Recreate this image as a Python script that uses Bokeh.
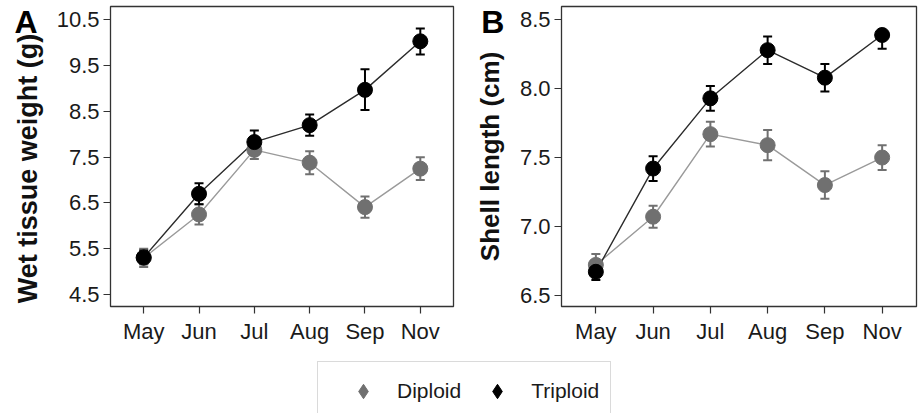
from bokeh.plotting import figure
from bokeh.models import (Range1d, FixedTicker, ColumnDataSource, Legend,
                          LegendItem, PrintfTickFormatter)
from bokeh.core.properties import value
from bokeh.layouts import column, row
from bokeh.embed import file_html
from bokeh.resources import INLINE
import math

# ---------------- data ----------------
months = ["May", "Jun", "Jul", "Aug", "Sep", "Nov"]
series = ["Diploid", "Triploid"]

wet_diploid = [5.30, 6.25, 7.66, 7.38, 6.41, 7.25]
wet_diploid_err_lo = [0.20, 0.22, 0.20, 0.25, 0.23, 0.25]
wet_diploid_err_hi = [0.20, 0.22, 0.20, 0.25, 0.23, 0.25]
wet_triploid = [5.31, 6.70, 7.83, 8.20, 8.97, 10.03]
wet_triploid_err_lo = [0.15, 0.23, 0.25, 0.23, 0.44, 0.29]
wet_triploid_err_hi = [0.15, 0.23, 0.25, 0.23, 0.45, 0.28]
wet_ticks = [4.5, 5.5, 6.5, 7.5, 8.5, 9.5, 10.5]

shell_diploid = [6.72, 7.07, 7.67, 7.59, 7.30, 7.50]
shell_diploid_err_lo = [0.08, 0.08, 0.09, 0.11, 0.10, 0.09]
shell_diploid_err_hi = [0.08, 0.08, 0.09, 0.11, 0.10, 0.09]
shell_triploid = [6.67, 7.42, 7.93, 8.28, 8.08, 8.39]
shell_triploid_err_lo = [0.06, 0.09, 0.09, 0.10, 0.10, 0.10]
shell_triploid_err_hi = [0.06, 0.09, 0.09, 0.10, 0.10, 0.00]
shell_ticks = [6.5, 7.0, 7.5, 8.0, 8.5]

# ---------------- style ----------------
FONT = "Liberation Sans"
DIP_PT = "#707070"
DIP_LINE = "#9a9a9a"
TRI_PT = "#000000"
TRI_LINE = "#2b2b2b"
FRAME = "#333333"


def make_panel(width, border_left, border_right, yr, ticks,
               ylabel, ylabel_xy, ylabel_size, letter, letter_xy,
               dip, dip_lo, dip_hi, tri, tri_lo, tri_hi):
    p = figure(width=width, height=360, output_backend="svg", toolbar_location=None,
               x_range=Range1d(-0.6, len(months) - 0.4), y_range=Range1d(*yr),
               min_border_left=border_left, min_border_right=border_right,
               min_border_top=6, min_border_bottom=54)
    p.xgrid.visible = False
    p.ygrid.visible = False
    p.outline_line_color = FRAME
    p.outline_line_width = 1.3
    p.outline_line_alpha = 1.0
    p.background_fill_color = "white"
    p.border_fill_color = "white"

    xs = list(range(len(months)))
    p.xaxis.ticker = FixedTicker(ticks=xs)
    p.xaxis.major_label_overrides = {i: m for i, m in enumerate(months)}
    p.yaxis.ticker = FixedTicker(ticks=ticks)
    p.yaxis.formatter = PrintfTickFormatter(format="%.1f")
    for ax in (p.xaxis[0], p.yaxis[0]):
        ax.axis_line_color = None
        ax.major_tick_line_color = FRAME
        ax.major_tick_line_width = 1.2
        ax.major_tick_out = 7
        ax.major_tick_in = 0
        ax.minor_tick_line_color = None
        ax.major_label_text_font = FONT
        ax.major_label_text_font_size = "22px"
        ax.major_label_text_color = "#1a1a1a"
    p.xaxis.major_label_standoff = 5
    p.yaxis.major_label_standoff = 4

    groups = [
        (dip, dip_lo, dip_hi, DIP_PT, DIP_LINE),
        (tri, tri_lo, tri_hi, TRI_PT, TRI_LINE),
    ]
    srcs = []
    for vals, lo, hi, pc, lc in groups:
        src = ColumnDataSource(dict(
            x=xs, y=vals,
            lower=[v - e for v, e in zip(vals, lo)],
            upper=[v + e for v, e in zip(vals, hi)],
        ))
        srcs.append(src)
    for src, (vals, lo, hi, pc, lc) in zip(srcs, groups):
        p.line("x", "y", source=src, line_color=lc, line_width=1.4)
    for src, (vals, lo, hi, pc, lc) in zip(srcs, groups):
        p.segment(x0="x", y0="lower", x1="x", y1="upper", source=src,
                  line_color=pc, line_width=2)
        p.scatter("x", "lower", source=src, marker="dash", size=9,
                  line_color=pc, line_width=2)
        p.scatter("x", "upper", source=src, marker="dash", size=9,
                  line_color=pc, line_width=2)
    for src, (vals, lo, hi, pc, lc) in zip(srcs, groups):
        p.scatter("x", "y", source=src, marker="circle", size=15,
                  fill_color=pc, line_color=pc, line_width=1)

    # y-axis title and panel letter (overlay level: drawn outside the frame)
    p.text(x=[ylabel_xy[0]], y=[ylabel_xy[1]], text=[ylabel], text_font=value(FONT),
           text_font_size=ylabel_size, text_font_style="bold", text_color="#111111",
           text_align="center", text_baseline="middle", angle=math.pi / 2,
           level="overlay")
    p.text(x=[letter_xy[0]], y=[letter_xy[1]], text=[letter], text_font=value(FONT),
           text_font_size="32px", text_font_style="bold", text_color="black",
           text_align="left", text_baseline="middle", level="overlay")
    return p


pA = make_panel(460, 110, 7, (4.24, 10.79), wet_ticks,
                "Wet tissue weight (g)", (-2.10, 7.253), "27px",
                "A", (-2.335, 10.4625),
                wet_diploid, wet_diploid_err_lo, wet_diploid_err_hi,
                wet_triploid, wet_triploid_err_lo, wet_triploid_err_hi)
pB = make_panel(458, 101, 2, (6.418, 8.597), shell_ticks,
                "Shell length (cm)", (-1.857, 7.508), "26px",
                "B", (-2.0, 8.488),
                shell_diploid, shell_diploid_err_lo, shell_diploid_err_hi,
                shell_triploid, shell_triploid_err_lo, shell_triploid_err_hi)

# ---------------- legend strip ----------------
pL = figure(width=918, height=53, output_backend="svg", toolbar_location=None,
            x_range=Range1d(0, 1), y_range=Range1d(0, 1),
            min_border_left=316, min_border_right=0, min_border_top=0,
            min_border_bottom=0)
pL.axis.visible = False
pL.xgrid.visible = False
pL.ygrid.visible = False
pL.outline_line_color = None
items = []
for name, col in zip(series, [DIP_PT, TRI_PT]):
    proxy = ColumnDataSource(dict(x=[math.nan], y=[math.nan]))
    r = pL.scatter("x", "y", source=proxy, marker="diamond",
                   fill_color=col, line_color=col, size=14)
    items.append(LegendItem(label=name, renderers=[r]))
leg = Legend(items=items, orientation="horizontal", location="top_left",
             margin=1, padding=11, glyph_width=68, glyph_height=36,
             label_standoff=0, spacing=2,
             label_text_font=FONT, label_text_font_size="21px",
             label_text_color="#1a1a1a",
             border_line_color="#b5b5b5", border_line_width=1,
             background_fill_color="white", background_fill_alpha=1)
pL.add_layout(leg)

layout = column(row(pA, pB), pL)
open("out.html", "w").write(file_html(layout, INLINE))
